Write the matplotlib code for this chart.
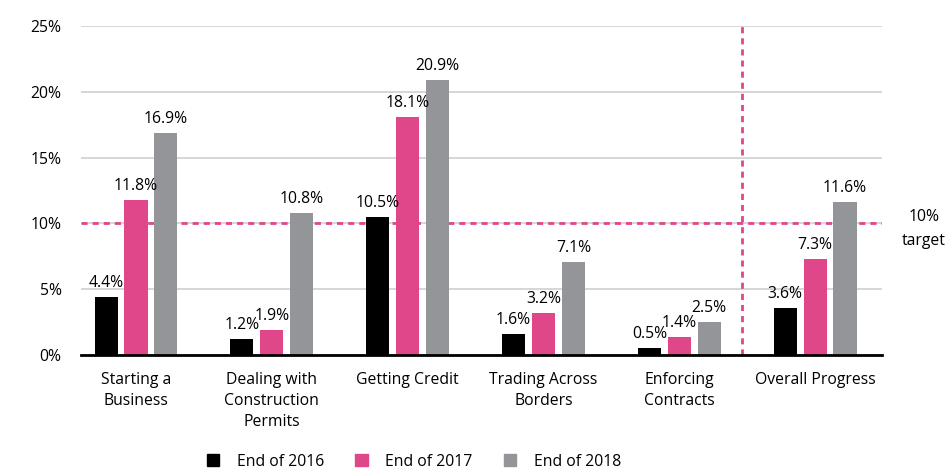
import numpy as np
import matplotlib.pyplot as plt
from matplotlib.patches import Patch

plt.rcParams['font.family'] = ['Open Sans', 'DejaVu Sans']

# data
categories = ['Starting a\nBusiness', 'Dealing with\nConstruction\nPermits', 'Getting Credit',
              'Trading Across\nBorders', 'Enforcing\nContracts', 'Overall Progress']
end_2016 = [4.4, 1.2, 10.5, 1.6, 0.5, 3.6]
end_2017 = [11.8, 1.9, 18.1, 3.2, 1.4, 7.3]
end_2018 = [16.9, 10.8, 20.9, 7.1, 2.5, 11.6]
series_names = ['End of 2016', 'End of 2017', 'End of 2018']
colors = ['#000000', '#E0468A', '#939598']
target = 10
fs = 11.3

fig = plt.figure(figsize=(9.47, 4.71), dpi=100)
ax = fig.add_axes([0.0855, 0.2463, 0.8455, 0.6985])

x = np.arange(len(categories))
w = 0.17
offs = [-0.22, 0, 0.22]
for vals, off, c in zip([end_2016, end_2017, end_2018], offs, colors):
    ax.bar(x + off, vals, width=w, color=c, zorder=3)
    for xi, v in zip(x, vals):
        ax.text(xi + off, v + 0.45, f'{v:.1f}%', ha='center', va='bottom', fontsize=fs, zorder=4)

ax.set_xlim(-0.405, 5.49)
ax.set_ylim(0, 25)
ax.set_yticks(range(0, 26, 5))
ax.set_yticklabels([f'{t}%' for t in range(0, 26, 5)], fontsize=fs)
ax.set_xticks(x)
ax.set_xticklabels(categories, fontsize=fs, linespacing=1.45)
ax.tick_params(axis='x', length=0, pad=12)
ax.tick_params(axis='y', length=0, pad=14)

ax.grid(axis='y', color='#cfcfcf', linewidth=1.2, zorder=0)
for s in ['top', 'right', 'left']:
    ax.spines[s].set_visible(False)
ax.spines['bottom'].set_linewidth(2)
ax.spines['bottom'].set_zorder(5)

# target and separator lines
ax.axhline(target, color='#E0468A', linestyle=(0, (2.2, 1.8)), linewidth=2, zorder=2)
ax.axvline(4.46, color='#E0468A', linestyle=(0, (2.2, 1.8)), linewidth=2, zorder=2, clip_on=False)
ax.text(1.053, target - 0.45, '10%\ntarget', transform=ax.get_yaxis_transform(), ha='center', va='center',
        fontsize=fs, linespacing=1.65)

handles = [Patch(color=c, label=n) for c, n in zip(colors, series_names)]
fig.legend(handles=handles, loc='center', bbox_to_anchor=(0.437, 0.02), ncol=3, frameon=False,
           fontsize=fs, handlelength=0.8, handleheight=0.8, handletextpad=1.1, columnspacing=2.0)

fig.savefig('out.png', dpi=100)
